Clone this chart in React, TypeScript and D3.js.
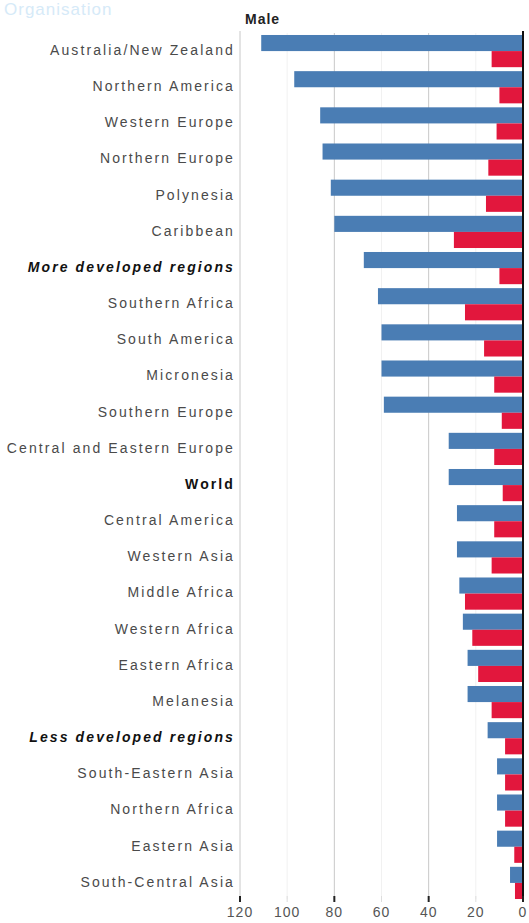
import React from "react";
import * as d3 from "d3";

const categories = [
  "Australia/New Zealand",
  "Northern America",
  "Western Europe",
  "Northern Europe",
  "Polynesia",
  "Caribbean",
  "More developed regions",
  "Southern Africa",
  "South America",
  "Micronesia",
  "Southern Europe",
  "Central and Eastern Europe",
  "World",
  "Central America",
  "Western Asia",
  "Middle Africa",
  "Western Africa",
  "Eastern Africa",
  "Melanesia",
  "Less developed regions",
  "South-Eastern Asia",
  "Northern Africa",
  "Eastern Asia",
  "South-Central Asia",
];

const blueValues = [111, 97, 86, 85, 81.5, 80, 67.5, 61.5, 60, 60, 59, 31.5, 31.5, 28, 28, 27, 25.5, 23.5, 23.5, 15, 11, 11, 11, 5.5];
const redValues = [13.3, 10, 11.2, 14.7, 15.7, 29.3, 10, 24.6, 16.5, 12.2, 9, 12.2, 8.6, 12.2, 13.3, 24.6, 21.5, 19, 13.3, 7.6, 7.6, 7.6, 3.7, 3.4];

const tickValues = [120, 100, 80, 60, 40, 20, 0];
const majorTicks = [120, 80, 40, 0];

const boldItalic = ["More developed regions", "Less developed regions"];
const boldOnly = ["World"];

const W = 529;
const H = 923;
const left = 240;
const right = 523;
const top = 33;
const bottom = 901;

export default function App() {
  const x = d3.scaleLinear().domain([120, 0]).range([left, right]);
  const y = d3.scaleBand<string>().domain(categories).range([top, bottom]).paddingInner(0.11).paddingOuter(0.055);
  const bw = y.bandwidth();
  const font = "'Liberation Sans', Arial, sans-serif";

  return (
    <svg width={W} height={H} style={{ position: "absolute", left: 0, top: 0, background: "#fff" }}>
      <text x={4} y={15} fontFamily={font} fontSize={17} fill="#d6eaf8" letterSpacing={1}>
        Organisation
      </text>
      <text x={245} y={24} fontFamily={font} fontSize={14} fontWeight="bold" fill="#222" letterSpacing={1}>
        Male
      </text>
      {tickValues
        .filter((t) => !majorTicks.includes(t))
        .map((t) => (
          <line key={"mg" + t} x1={x(t)} x2={x(t)} y1={top} y2={bottom - 2} stroke="#f1f1f1" strokeWidth={1} />
        ))}
      {[80, 40].map((t) => (
        <line key={"g" + t} x1={x(t)} x2={x(t)} y1={top} y2={bottom - 2} stroke="#c8c8c8" strokeWidth={1} />
      ))}
      <line x1={x(120)} x2={x(120)} y1={top - 2} y2={bottom - 2} stroke="#c8c8c8" strokeWidth={1} />
      {categories.map((c, i) => (
        <g key={c}>
          <rect
            x={x(blueValues[i])}
            y={y(c)!}
            width={x(0) - x(blueValues[i])}
            height={bw / 2}
            fill="#4a7db4"
          />
          <rect
            x={x(redValues[i])}
            y={y(c)! + bw / 2}
            width={x(0) - x(redValues[i])}
            height={bw / 2}
            fill="#e2173d"
          />
        </g>
      ))}
      <line x1={x(0)} x2={x(0)} y1={top - 2} y2={bottom} stroke="#111" strokeWidth={2} />
      {categories.map((c) => (
        <text
          key={"l" + c}
          x={left - 5}
          y={y(c)! + bw / 2 - 1}
          dy="0.35em"
          textAnchor="end"
          fontFamily={font}
          fontSize={14}
          letterSpacing={2.1}
          fontWeight={boldItalic.includes(c) || boldOnly.includes(c) ? "bold" : "normal"}
          fontStyle={boldItalic.includes(c) ? "italic" : "normal"}
          fill={boldItalic.includes(c) || boldOnly.includes(c) ? "#111" : "#4a4a4a"}
        >
          {c}
        </text>
      ))}
      {tickValues.map((t) => (
        <g key={"t" + t}>
          <line
            x1={x(t)}
            x2={x(t)}
            y1={bottom - 5}
            y2={bottom + 1}
            stroke={majorTicks.includes(t) ? "#222" : "#ddd"}
            strokeWidth={majorTicks.includes(t) ? 2 : 1}
          />
          <text
            x={x(t)}
            y={917}
            textAnchor="middle"
            fontFamily={font}
            fontSize={14}
            letterSpacing={1}
            fill="#555"
          >
            {t}
          </text>
        </g>
      ))}
    </svg>
  );
}
